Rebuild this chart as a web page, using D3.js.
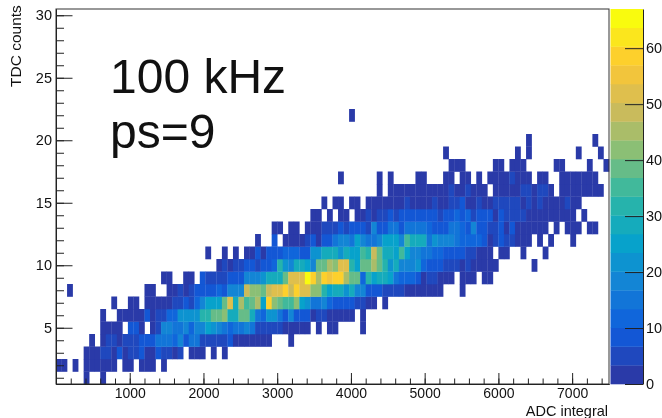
<!DOCTYPE html>
<html>
<head>
<meta charset="utf-8">
<script src="https://cdn.jsdelivr.net/npm/d3@7"></script>
<style>
    html, body { margin: 0; padding: 0; background: white; }
    svg { display: block; filter: blur(0.35px); }
    text { font-family: "Liberation Sans", Arial, sans-serif; fill: #111; }
</style>
</head>
<body>
<svg id="chart" width="662" height="418"></svg>
<script>
// counts per ADC bin, one array per TDC count (trailing empty bins left out)
const tdc1 = [0,0,0,0,0,1,0,0,1];
const tdc2 = [1,1,0,1,0,2,2,1,2,2, 1,0,1,2,0,1,2,1,0,1];
const tdc3 = [0,0,0,0,0,2,2,3,5,5, 2,8,2,5,5,8,3,2,8,5, 5,2,5,0,2,2,3,0,2,0, 2];
const tdc4 = [0,0,0,0,0,0,1,0,2,5, 5,2,6,6,6,9,9,9,14,14, 14,11,17,9,14,14,6,5,5,5, 5,8,3,3,2,3,2,2,1,0, 0,0,1];
const tdc5 = [0,0,0,0,0,0,0,0,1,2, 2,2,0,7,7,2,0,2,5,19, 19,14,14,19,11,18,18,25,21,18, 15,11,16,16,19,14,6,4,6,6, 6,2,2,3,2,2,0,1,0,1, 1,0,0,0,0,1];
const tdc6 = [0,0,0,0,0,0,0,0,1,0, 0,2,2,2,2,2,8,2,6,6, 11,13,21,21,21,23,32,32,38,38, 41,28,28,38,38,28,15,11,23,23, 16,10,17,10,7,7,2,6,5,2, 2,2,3,2,0,1];
const tdc7 = [0,0,0,0,0,0,0,0,0,0, 1,0,0,2,2,0,1,2,2,2, 2,5,5,8,5,12,18,24,24,24, 40,52,28,44,36,38,45,26,60,42, 37,34,34,42,26,22,14,15,18,13, 8,8,8,8,5,5,2,2,0,1];
const tdc8 = [0,0,1,0,0,0,0,0,0,0, 0,0,0,0,0,0,2,2,0,0, 2,2,5,2,5,9,9,9,9,12, 10,18,18,20,48,42,42,40,50,53, 53,60,47,60,51,51,42,42,33,25, 28,28,22,28,20,20,9,9,9,6, 6,6,6,2,2,3,2,2,2,2, 0,0,0,1];
const tdc9 = [0,0,0,0,0,0,0,0,0,0, 0,0,0,0,0,0,0,0,0,1, 1,0,0,2,2,0,9,5,5,5, 5,10,10,10,20,20,19,23,28,28, 28,40,52,52,52,64,58,44,60,56, 60,60,44,37,40,13,32,25,28,28, 24,15,11,13,13,9,2,6,6,2, 2,2,0,2,2,2,0,2,2];
const tdc10 = [0,0,0,0,0,0,0,0,0,0, 0,0,0,0,0,0,0,0,0,0, 0,0,0,0,0,0,0,0,0,2, 4,2,5,5,8,9,5,10,8,12, 32,22,19,27,27,25,18,40,40,44, 42,52,52,33,25,40,40,46,40,33, 21,28,18,18,18,21,13,8,8,8, 5,5,5,2,5,2,2,3,2,2, 0,0,0,0,0,0,1];
const tdc11 = [0,0,0,0,0,0,0,0,0,0, 0,0,0,0,0,0,0,0,0,0, 0,0,0,0,0,0,0,1,0,0, 1,0,1,0,2,2,7,2,7,7, 7,11,11,11,8,8,22,22,28,30, 28,22,30,26,26,36,32,48,37,30, 30,26,35,25,17,19,16,16,13,13, 9,9,9,9,6,6,2,2,2,0, 2,2,0,0,2,0,0,0,1];
const tdc12 = [0,0,0,0,0,0,0,0,0,0, 0,0,0,0,0,0,0,0,0,0, 0,0,0,0,0,0,0,0,0,0, 0,0,0,0,0,0,2,0,0,8, 0,2,2,2,2,4,8,3,8,8, 15,18,18,14,24,20,16,16,19,25, 24,24,19,35,28,28,28,16,22,20, 20,20,14,12,12,12,12,7,2,5, 8,5,5,2,2,2,0,1,0,1, 0,0,0,1];
const tdc13 = [0,0,0,0,0,0,0,0,0,0, 0,0,0,0,0,0,0,0,0,0, 0,0,0,0,0,0,0,0,0,0, 0,0,0,0,0,0,0,0,0,2, 2,0,2,2,0,2,3,2,5,5, 5,8,5,8,10,10,6,17,10,10, 14,14,10,14,14,14,14,12,8,7, 10,14,14,12,8,17,8,8,5,5, 7,2,8,3,2,2,2,2,2,0, 1,0,2,2,2,0,1,1];
const tdc14 = [0,0,0,0,0,0,0,0,0,0, 0,0,0,0,0,0,0,0,0,0, 0,0,0,0,0,0,0,0,0,0, 0,0,0,0,0,0,0,0,0,0, 0,0,0,0,0,0,2,2,0,1, 0,2,2,0,2,2,4,2,5,5, 7,5,8,8,8,8,8,8,10,6, 8,9,11,8,11,6,8,10,10,2, 8,6,6,6,6,2,2,2,2,2, 2,2,2,2,0,1];
const tdc15 = [0,0,0,0,0,0,0,0,0,0, 0,0,0,0,0,0,0,0,0,0, 0,0,0,0,0,0,0,0,0,0, 0,0,0,0,0,0,0,0,0,0, 0,0,0,0,0,0,0,0,1,0, 1,1,0,1,1,0,2,2,2,2, 2,2,2,4,2,2,2,2,4,2, 2,5,5,7,3,3,5,2,2,6, 6,6,6,6,3,5,2,5,2,2, 2,2,6,2,2];
const tdc16 = [0,0,0,0,0,0,0,0,0,0, 0,0,0,0,0,0,0,0,0,0, 0,0,0,0,0,0,0,0,0,0, 0,0,0,0,0,0,0,0,0,0, 0,0,0,0,0,0,0,0,0,0, 0,0,0,0,0,0,0,0,1,0, 2,2,2,2,2,2,2,2,2,2, 2,5,2,2,5,2,2,2,0,2, 2,3,2,2,5,5,2,6,6,2, 0,2,2,2,2,2,2,2,2];
const tdc17 = [0,0,0,0,0,0,0,0,0,0, 0,0,0,0,0,0,0,0,0,0, 0,0,0,0,0,0,0,0,0,0, 0,0,0,0,0,0,0,0,0,0, 0,0,0,0,0,0,0,0,0,0, 0,1,0,0,0,0,0,0,1,0, 1,0,0,0,0,1,1,0,0,0, 1,1,0,1,1,0,1,0,1,1, 1,1,4,1,1,1,0,1,1,0, 0,1,1,1,1,1,1,1];
const tdc18 = [0,0,0,0,0,0,0,0,0,0, 0,0,0,0,0,0,0,0,0,0, 0,0,0,0,0,0,0,0,0,0, 0,0,0,0,0,0,0,0,0,0, 0,0,0,0,0,0,0,0,0,0, 0,0,0,0,0,0,0,0,0,0, 0,0,0,0,0,0,0,0,0,0, 0,1,1,1,0,0,0,0,0,1, 1,0,1,1,1,0,0,0,0,0, 1,1,0,0,0,0,1,0,0,1];
const tdc19 = [0,0,0,0,0,0,0,0,0,0, 0,0,0,0,0,0,0,0,0,0, 0,0,0,0,0,0,0,0,0,0, 0,0,0,0,0,0,0,0,0,0, 0,0,0,0,0,0,0,0,0,0, 0,0,0,0,0,0,0,0,0,0, 0,0,0,0,0,0,0,0,0,0, 1,0,0,0,0,0,0,0,0,0, 0,0,0,1,0,1,0,0,0,0, 0,0,0,0,1,0,0,0,1];
const tdc20 = [0,0,0,0,0,0,0,0,0,0, 0,0,0,0,0,0,0,0,0,0, 0,0,0,0,0,0,0,0,0,0, 0,0,0,0,0,0,0,0,0,0, 0,0,0,0,0,0,0,0,0,0, 0,0,0,0,0,0,0,0,0,0, 0,0,0,0,0,0,0,0,0,0, 0,0,0,0,0,0,0,0,0,0, 0,0,0,0,0,1,0,0,0,0, 0,0,0,0,0,0,0,1];
const tdc22 = [0,0,0,0,0,0,0,0,0,0, 0,0,0,0,0,0,0,0,0,0, 0,0,0,0,0,0,0,0,0,0, 0,0,0,0,0,0,0,0,0,0, 0,0,0,0,0,0,0,0,0,0, 0,0,0,1];

const rows = [[1,tdc1],[2,tdc2],[3,tdc3],[4,tdc4],[5,tdc5],[6,tdc6],[7,tdc7],[8,tdc8],[9,tdc9],[10,tdc10],
              [11,tdc11],[12,tdc12],[13,tdc13],[14,tdc14],[15,tdc15],[16,tdc16],[17,tdc17],[18,tdc18],[19,tdc19],[20,tdc20],[22,tdc22]];

const x_ticks = [1000, 2000, 3000, 4000, 5000, 6000, 7000];
const y_ticks = [5, 10, 15, 20, 25, 30];
const z_ticks = [0, 10, 20, 30, 40, 50, 60];
const labels = ["100 kHz", "ps=9"];

const adc_max = 7500, bin_w = 75, z_max = 67, n_levels = 20;

// bird palette stops, first one nudged to the reference's dark blue
const bird = ["#2a3aa8", "#0f5cdd", "#1481d6", "#06a4ca", "#2eb7a4", "#87bf77", "#d1bb59", "#fec832", "#f9fb0e"];

const svg = d3.select("#chart");

const x = d3.scaleLinear().domain([0, adc_max]).range([56, 609]);
const y = d3.scaleLinear().domain([0.5, 30.5]).range([384, 9]);
const z = d3.scaleLinear().domain([0, z_max]).range([384, 9]);

const bird_scale = d3.scaleLinear()
    .domain(bird.map((d, i) => i / (bird.length - 1)))
    .range(bird);
const levels = d3.range(n_levels).map(i => bird_scale(i / (n_levels - 1)));
const color = d3.scaleQuantize().domain([0, z_max]).range(levels);

// Add the cells
rows.forEach(([tdc, values]) => {
    svg.append("g").selectAll("rect")
        .data(values.map((v, i) => ({ i: i, v: v })).filter(d => d.v > 0))
        .enter().append("rect")
        .attr("x", d => x(d.i * bin_w))
        .attr("y", y(tdc + 0.5))
        .attr("width", d => x((d.i + 1) * bin_w) - x(d.i * bin_w) + 0.3)
        .attr("height", y(tdc - 0.5) - y(tdc + 0.5) + 0.3)
        .attr("fill", d => color(d.v));
});

// Frame
svg.append("rect")
    .attr("x", 56).attr("y", 9).attr("width", 553).attr("height", 375)
    .attr("fill", "none").attr("stroke", "#333").attr("stroke-width", 1);

// Add x-axis
svg.append("g")
    .attr("transform", "translate(0,384)")
    .call(d3.axisBottom(x).tickValues(d3.range(200, adc_max, 200)).tickSizeInner(-5.5).tickSizeOuter(0).tickFormat(""));
const x_axis = svg.append("g")
    .attr("transform", "translate(0,384)")
    .call(d3.axisBottom(x).tickValues(x_ticks).tickSizeInner(-11).tickSizeOuter(0).tickPadding(4).tickFormat(d3.format("d")));
x_axis.selectAll("text").attr("font-size", 14);

// Add the y-axis
svg.append("g")
    .attr("transform", "translate(56,0)")
    .call(d3.axisLeft(y).tickValues(d3.range(1, 31)).tickSizeInner(-8).tickSizeOuter(0).tickFormat(""));
const y_axis = svg.append("g")
    .attr("transform", "translate(56,0)")
    .call(d3.axisLeft(y).tickValues(y_ticks).tickSizeInner(-16.5).tickSizeOuter(0).tickPadding(4).tickFormat(d3.format("d")));
y_axis.selectAll("text").attr("font-size", 14.5);

// Palette bar
svg.append("g").selectAll("rect")
    .data(levels)
    .enter().append("rect")
    .attr("x", 610.5)
    .attr("y", (d, i) => z((i + 1) * z_max / n_levels))
    .attr("width", 32.5)
    .attr("height", z(0) - z(z_max / n_levels) + 0.3)
    .attr("fill", d => d);

const z_axis = svg.append("g")
    .attr("transform", "translate(643,0)")
    .call(d3.axisRight(z).tickValues(z_ticks).tickSizeInner(-18).tickSizeOuter(0).tickPadding(3).tickFormat(d3.format("d")));
z_axis.selectAll("text").attr("font-size", 14.5);

svg.selectAll(".domain, .tick line").attr("stroke", "#222");

// Axis titles
svg.append("text").attr("x", 608).attr("y", 415.5).attr("text-anchor", "end").attr("font-size", 14.5).text("ADC integral");
svg.append("text").attr("transform", "translate(21,87) rotate(-90)").attr("font-size", 15.5).text("TDC counts");

// Big labels
svg.selectAll(".big")
    .data(labels)
    .enter().append("text")
    .attr("class", "big")
    .attr("x", 110)
    .attr("y", (d, i) => 93 + i * 55)
    .attr("font-size", 48)
    .attr("fill", "black")
    .text(d => d);
</script>
</body>
</html>
